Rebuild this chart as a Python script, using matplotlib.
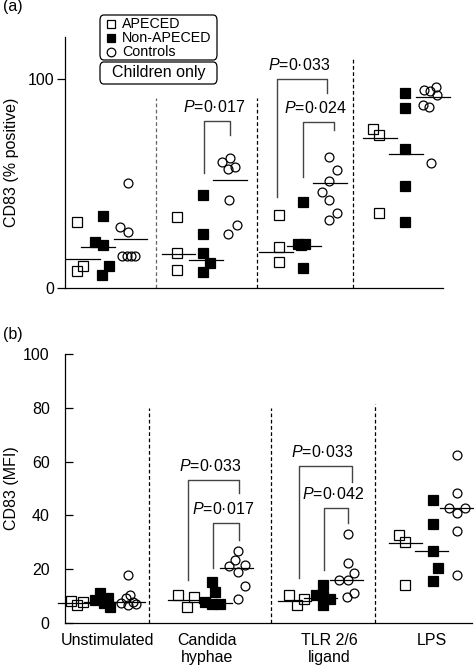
import matplotlib
matplotlib.use("Agg")
import matplotlib.pyplot as plt
from matplotlib.lines import Line2D
from matplotlib.patches import FancyBboxPatch

plt.rcParams["font.family"] = ["Liberation Sans", "DejaVu Sans"]
plt.rcParams["mathtext.fontset"] = "custom"
plt.rcParams["mathtext.it"] = "Liberation Sans:italic"
plt.rcParams["mathtext.rm"] = "Liberation Sans"

CATEGORIES = ["Unstimulated", "Candida\nhyphae", "TLR 2/6\nligand", "LPS"]
SERIES = ["APECED", "Non-APECED", "Controls"]

# ---- panel (a): CD83 % positive, one list per stimulus -------------------
A_APECED = [[31.6, 10.5, 8.1], [34.0, 16.7, 8.6], [34.9, 19.6, 12.4], [76.0, 73.2, 35.9]]
A_NONAP = [[34.4, 22.0, 20.6, 10.5, 6.2], [44.5, 25.8, 16.7, 12.0, 7.7],
           [41.1, 21.0, 21.0, 20.5, 9.6], [93.3, 86.1, 66.5, 48.8, 31.6]]
A_CTRL = [[50.2, 29.2, 26.8, 15.3, 15.3, 15.3, 15.3],
          [60.3, 62.2, 56.9, 57.9, 42.1, 30.1, 25.8],
          [62.7, 56.5, 51.2, 45.9, 42.1, 35.9, 32.5],
          [94.7, 94.3, 96.2, 92.3, 87.6, 86.6, 59.8]]
A_LINES = [[13.9, 19.6, 23.4], [16.3, 13.4, 51.7], [17.2, 20.1, 50.2], [71.8, 64.1, 91.4]]

# ---- panel (b): CD83 MFI --------------------------------------------------
B_APECED = [[8.2, 6.7, 7.8], [10.4, 6.0, 9.7], [10.4, 6.7, 8.9], [32.7, 30.1, 14.1]]
B_NONAP = [[11.2, 8.6, 9.3, 6.0, 7.4], [15.2, 11.5, 7.8, 7.1, 7.1],
           [14.1, 10.4, 9.9, 9.0, 6.8], [45.7, 36.8, 26.8, 20.4, 15.6]]
B_CTRL = [[17.8, 7.4, 9.3, 10.4, 6.7, 7.8, 7.1],
          [26.8, 23.4, 21.2, 21.6, 19.0, 13.8, 8.9],
          [33.1, 22.3, 18.6, 16.0, 16.0, 11.2, 9.7],
          [62.5, 48.3, 42.8, 42.8, 40.9, 34.2, 17.8]]
B_LINES = [[7.6, 7.8, 7.8], [8.6, 7.4, 20.4], [8.2, 9.3, 16.0], [29.7, 26.8, 42.8]]

# p-value brackets: (label, left x, right x, left foot, right foot, top)
A_PVALS = [("0·017", 2.01, 2.27, 55.0, 73.0, 80.0),
           ("0·033", 2.74, 3.24, 43.5, 93.3, 100.0),
           ("0·024", 3.00, 3.31, 53.0, 75.6, 79.4)]
B_PVALS = [("0·033", 1.77, 2.24, 16.0, 48.3, 53.2),
           ("0·017", 2.00, 2.24, 20.4, 30.9, 37.2),
           ("0·033", 2.78, 3.26, 16.7, 52.4, 58.4),
           ("0·042", 3.01, 3.23, 19.7, 37.2, 42.8)]

# ---- horizontal scatter of points inside each group (layout only) --------
A_APECED_DX = [[-0.26, -0.20, -0.26], [-0.26, -0.26, -0.26], [-0.24, -0.24, -0.24], [-0.30, -0.24, -0.24]]
A_NONAP_DX = [[0.0, -0.08, 0.0, 0.06, -0.01], [0.0, 0.0, 0.0, 0.07, 0.0],
              [0.0, -0.05, 0.02, -0.02, 0.0], [0.02] * 5]
A_CTRL_DX = [[0.25, 0.17, 0.25, 0.19, 0.24, 0.28, 0.32],
             [0.19, 0.27, 0.25, 0.32, 0.26, 0.34, 0.25],
             [0.26, 0.34, 0.26, 0.19, 0.26, 0.34, 0.26],
             [0.21, 0.27, 0.33, 0.34, 0.20, 0.26, 0.28]]
A_LINE_DX = [[-0.205, -0.05, 0.275], [-0.245, 0.03, 0.27], [-0.27, 0.01, 0.27], [-0.235, 0.03, 0.295]]

B_APECED_DX = [[-0.29, -0.24, -0.18], [-0.32, -0.24, -0.17], [-0.31, -0.24, -0.17], [-0.31, -0.25, -0.25]]
B_NONAP_DX = [[-0.03, -0.07, 0.05, 0.06, 0.01], [-0.01, 0.02, -0.07, -0.01, 0.06],
              [0.0, -0.06, 0.0, 0.06, 0.0], [0.0, 0.0, 0.0, 0.05, 0.0]]
B_CTRL_DX = [[0.23, 0.16, 0.21, 0.25, 0.23, 0.27, 0.30],
             [0.23, 0.20, 0.15, 0.29, 0.23, 0.29, 0.23],
             [0.23, 0.23, 0.28, 0.15, 0.23, 0.28, 0.22],
             [0.22, 0.22, 0.15, 0.29, 0.22, 0.22, 0.22]]
B_LINE_DX = [[-0.26, -0.02, 0.23], [-0.26, 0.02, 0.21], [-0.26, -0.02, 0.21], [-0.25, -0.01, 0.21]]

SQ = dict(marker="s", ms=6.8, mew=0.9, ls="none", color="black", clip_on=False)
CI = dict(marker="o", ms=6.4, mew=0.9, ls="none", color="black", fillstyle="none", clip_on=False)


def draw_panel(ax, apeced, nonap, ctrl, lines, adx, ndx, cdx, ldx, half):
    for i in range(4):
        g = i + 1
        for j, v in enumerate(lines[i]):
            c = g + ldx[i][j]
            ax.plot([c - half, c + half], [v, v], color="black", lw=0.9, clip_on=False)
        ax.plot([g + d for d in adx[i]], apeced[i], fillstyle="none", **SQ)
        ax.plot([g + d for d in ndx[i]], nonap[i], **SQ)
        ax.plot([g + d for d in cdx[i]], ctrl[i], **CI)


def draw_pvals(ax, pvals, dy):
    for lab, xl, xr, yl, yr, top in pvals:
        ax.plot([xl, xl, xr, xr], [yl, top, top, yr], color="#444444", lw=1.0, clip_on=False)
        ax.text((xl + xr) / 2 - 0.03, top + dy, "$P$=" + lab, ha="center", va="center",
                fontsize=11.5)


def style_axes(ax):
    for s in ("top", "right"):
        ax.spines[s].set_visible(False)
    for s in ("left", "bottom"):
        ax.spines[s].set_linewidth(0.9)
    ax.tick_params(axis="y", labelsize=11.5, width=0.9, length=5.5)


fig = plt.figure(figsize=(4.74, 6.68), dpi=100)

# ---------------- panel (a) ----------------
ax_a = fig.add_axes([65 / 474, 1 - 288 / 668, 378 / 474, 251 / 668])
style_axes(ax_a)
ax_a.set_xlim(0.62, 4.40)
ax_a.set_ylim(0, 120)
ax_a.set_yticks([0, 100])
ax_a.tick_params(axis="y", direction="out", pad=2)
ax_a.set_xticks([])
ax_a.set_ylabel("CD83 (% positive)", fontsize=11.5)
ax_a.yaxis.set_label_coords((19 - 65) / 378, 0.5)
for x, top, col in zip([1.53, 2.54, 3.50], [91, 91, 110], ["#666666", "black", "black"]):
    ax_a.plot([x, x], [0, top], color=col, lw=0.9, ls=(0, (3, 2)))
draw_panel(ax_a, A_APECED, A_NONAP, A_CTRL, A_LINES,
           A_APECED_DX, A_NONAP_DX, A_CTRL_DX, A_LINE_DX, 0.17)
draw_pvals(ax_a, A_PVALS, 6.5)

# ---------------- panel (b) ----------------
ax_b = fig.add_axes([65 / 474, 1 - 623 / 668, 407 / 474, 269 / 668])
style_axes(ax_b)
ax_b.set_xlim(0.655, 4.355)
ax_b.set_ylim(0, 100)
ax_b.set_yticks([0, 20, 40, 60, 80, 100])
ax_b.tick_params(axis="y", direction="in", pad=11)
ax_b.set_xticks([1.04, 1.95, 3.06, 3.99])
ax_b.set_xticklabels(CATEGORIES, fontsize=11.5)
ax_b.tick_params(axis="x", length=0, pad=7)
ax_b.set_ylabel("CD83 (MFI)", fontsize=11.5)
ax_b.yaxis.set_label_coords((19 - 65) / 407, 0.5)
for x, top in zip([1.418, 2.527, 3.473], [80, 80, 81.5]):
    ax_b.plot([x, x], [0, top], color="black", lw=0.9, ls=(0, (3, 2)))
draw_panel(ax_b, B_APECED, B_NONAP, B_CTRL, B_LINES,
           B_APECED_DX, B_NONAP_DX, B_CTRL_DX, B_LINE_DX, 0.15)
draw_pvals(ax_b, B_PVALS, 5.2)

# ---------------- panel letters ----------------
fig.text(3 / 474, 1 - 7 / 668, "(a)", fontsize=11.5, ha="left", va="center")
fig.text(3 / 474, 1 - 334 / 668, "(b)", fontsize=11.5, ha="left", va="center")

# ---------------- legend boxes (figure pixels) ----------------
W, H = 474, 668


def fx(px):
    return px / W


def fy(py):
    return 1 - py / H


for (x0, y0, x1, y1) in [(100, 15, 217, 60), (100, 62, 217, 84)]:
    fig.patches.append(FancyBboxPatch(
        (fx(x0), fy(y1)), fx(x1) - fx(x0), fy(y0) - fy(y1),
        boxstyle="round,pad=0,rounding_size=0.008", transform=fig.transFigure,
        fc="white", ec="black", lw=0.9))
fig.text(fx(158.5), fy(73), "Children only", fontsize=11.5, ha="center", va="center")

leg_styles = [dict(SQ, fillstyle="none"), dict(SQ), dict(CI)]
for k, (name, st) in enumerate(zip(SERIES, leg_styles)):
    yy = fy(24 + 14 * k)
    st = dict(st)
    st["ms"] = 6.2
    fig.add_artist(Line2D([fx(111)], [yy], transform=fig.transFigure, **st))
    fig.text(fx(122), yy, name, fontsize=10.3, ha="left", va="center")

fig.savefig("out.png", dpi=100)
